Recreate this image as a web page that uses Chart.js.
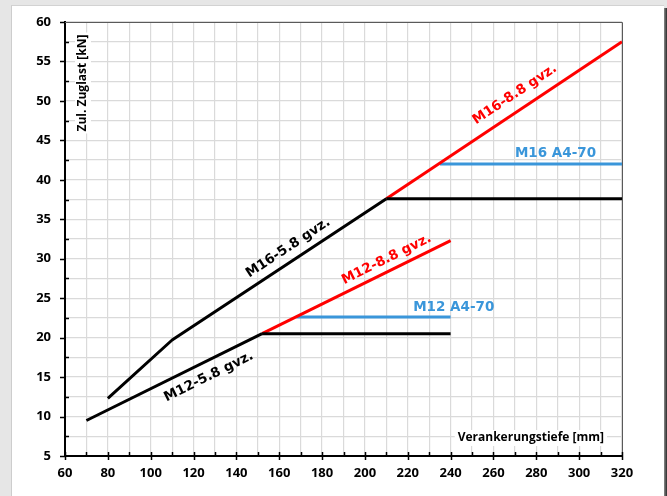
<!DOCTYPE html>
<html><head><meta charset="utf-8">
<script src="https://cdn.jsdelivr.net/npm/chart.js@4/dist/chart.umd.min.js"></script>
<style>
html,body{margin:0;padding:0;background:#e6e6e6;width:667px;height:496px;overflow:hidden;}
#panel{position:absolute;left:11px;top:5px;width:653px;height:500px;background:#fff;border-left:1px solid #cdcdcd;border-top:1px solid #d2d2d2;box-sizing:border-box;}
#shadow{position:absolute;left:664px;top:8px;width:3px;height:488px;background:linear-gradient(to right,#8a8a8a,#2a2a2a);}
canvas{position:absolute;left:0;top:0;}
</style></head><body>
<div id="panel"></div><div id="shadow"></div>
<canvas id="c" width="667" height="496"></canvas>
<script>
// ---- data ----
const m12_58_x = [70, 152];
const m12_58_y = [9.5, 20.5];
const m12_58flat_x = [152, 240];
const m12_58flat_y = [20.5, 20.5];
const m12_88_x = [152, 240];
const m12_88_y = [20.5, 32.3];
const m12_a4_x = [168, 240];
const m12_a4_y = [22.6, 22.6];

const m16_58_x = [80, 110, 210];
const m16_58_y = [12.3, 19.7, 37.6];
const m16_58flat_x = [210, 320];
const m16_58flat_y = [37.6, 37.6];
const m16_88_x = [210, 320];
const m16_88_y = [37.6, 57.5];
const m16_a4_x = [235, 320];
const m16_a4_y = [42, 42];

const xTickLabels = [60,80,100,120,140,160,180,200,220,240,260,280,300,320];
const yTickLabels = [5,10,15,20,25,30,35,40,45,50,55,60];
const xTitle = 'Verankerungstiefe [mm]';
const yTitle = 'Zul. Zuglast [kN]';

const BLACK = '#000000', RED = '#ff0000', BLUE = '#3a96da';

function pts(xs, ys){ return xs.map((x,i)=>({x:x, y:ys[i]})); }
function ds(xs, ys, color){
  return {data:pts(xs,ys), borderColor:color, backgroundColor:color, borderWidth:3,
    showLine:true, pointRadius:0, tension:0, borderCapStyle:'butt', borderJoinStyle:'round'};
}

const lineLabels = [
  {text:'M16-5.8 gvz.', xs:m16_58_x, ys:m16_58_y, seg:1, at:167.5, off:13, color:BLACK},
  {text:'M12-5.8 gvz.', xs:m12_58_x, ys:m12_58_y, seg:0, at:124, off:-15, color:BLACK},
  {text:'M12-8.8 gvz.', xs:m12_88_x, ys:m12_88_y, seg:0, at:212.5, off:11.5, color:RED},
  {text:'M16-8.8 gvz.', xs:m16_88_x, ys:m16_88_y, seg:0, at:274, off:15.5, color:RED}
];
const flatLabels = [
  {text:'M16 A4-70', x:270, y:m16_a4_y[0], dy:-11, color:BLUE},
  {text:'M12 A4-70', x:222.5, y:m12_a4_y[0], dy:-10, color:BLUE}
];

const LABEL_FONT = 'bold 13.5px "DejaVu Sans"';
const TICK_FONT = {family:'"Open Sans"', weight:'bold', size:13};
const TITLE_FONT = 'bold 12px "Open Sans"';

const decor = {
  id:'decor',
  beforeDatasetsDraw(chart){
    const ctx = chart.ctx, a = chart.chartArea;
    ctx.save();
    ctx.font = TITLE_FONT;
    ctx.translate(a.left + 18, a.top + 61);
    ctx.rotate(-Math.PI/2);
    const w1 = ctx.measureText(yTitle).width;
    ctx.fillStyle = '#fff';
    ctx.fillRect(-w1/2 - 2, -8, w1 + 4, 16);
    ctx.fillStyle = '#000';
    ctx.textAlign = 'center'; ctx.textBaseline = 'middle';
    ctx.fillText(yTitle, 0, 0);
    ctx.restore();
    ctx.save();
    ctx.font = TITLE_FONT;
    const w2 = ctx.measureText(xTitle).width;
    const rx = a.right - 18, cy = a.bottom - 18;
    ctx.fillStyle = '#fff';
    ctx.fillRect(rx - w2 - 3, cy - 8, w2 + 6, 16);
    ctx.fillStyle = '#000';
    ctx.textAlign = 'right'; ctx.textBaseline = 'middle';
    ctx.fillText(xTitle, rx, cy);
    ctx.restore();
  },
  afterDatasetsDraw(chart){
    const ctx = chart.ctx, a = chart.chartArea;
    const sx = chart.scales.x, sy = chart.scales.y;
    ctx.save();
    ctx.strokeStyle = '#5a5a5a'; ctx.lineWidth = 1;
    ctx.beginPath();
    ctx.moveTo(a.left, a.top + 0.5); ctx.lineTo(a.right + 0.5, a.top + 0.5); ctx.lineTo(a.right + 0.5, a.bottom);
    ctx.stroke();
    ctx.strokeStyle = '#000'; ctx.lineWidth = 1.5;
    ctx.beginPath();
    for (let v = 5; v <= 60; v += 2.5){
      const y = Math.round(sy.getPixelForValue(v)) + 0.5;
      if (v % 5 === 0){ ctx.moveTo(a.left - 5, y); ctx.lineTo(a.left, y); }
      else { ctx.moveTo(a.left, y); ctx.lineTo(a.left + 4, y); }
    }
    for (let v = 60; v <= 320; v += 10){
      const x = Math.round(sx.getPixelForValue(v)) + 0.5;
      if (v % 20 === 0){ ctx.moveTo(x, a.bottom - 4); ctx.lineTo(x, a.bottom + 4); }
      else { ctx.moveTo(x, a.bottom - 4); ctx.lineTo(x, a.bottom); }
    }
    ctx.stroke();
    ctx.font = LABEL_FONT;
    ctx.textAlign = 'center'; ctx.textBaseline = 'middle';
    for (const L of lineLabels){
      const i = L.seg;
      const x0 = sx.getPixelForValue(L.xs[i]), y0 = sy.getPixelForValue(L.ys[i]);
      const x1 = sx.getPixelForValue(L.xs[i+1]), y1 = sy.getPixelForValue(L.ys[i+1]);
      const ang = Math.atan2(y1 - y0, x1 - x0);
      const t = (L.at - L.xs[i]) / (L.xs[i+1] - L.xs[i]);
      const vy = L.ys[i] + t * (L.ys[i+1] - L.ys[i]);
      const px = sx.getPixelForValue(L.at), py = sy.getPixelForValue(vy);
      const cx = px + L.off * Math.sin(ang), cy = py - L.off * Math.cos(ang);
      ctx.save();
      ctx.translate(cx, cy); ctx.rotate(ang);
      ctx.fillStyle = L.color;
      ctx.fillText(L.text, 0, 0);
      ctx.restore();
    }
    ctx.textAlign = 'left';
    for (const F of flatLabels){
      ctx.fillStyle = F.color;
      ctx.fillText(F.text, sx.getPixelForValue(F.x), sy.getPixelForValue(F.y) + F.dy);
    }
    ctx.restore();
  }
};

new Chart(document.getElementById('c'), {
  type:'scatter',
  data:{datasets:[
    ds(m12_58flat_x, m12_58flat_y, BLACK),
    ds(m16_58flat_x, m16_58flat_y, BLACK),
    ds(m12_58_x, m12_58_y, BLACK),
    ds(m16_58_x, m16_58_y, BLACK),
    ds(m12_88_x, m12_88_y, RED),
    ds(m16_88_x, m16_88_y, RED),
    ds(m12_a4_x, m12_a4_y, BLUE),
    ds(m16_a4_x, m16_a4_y, BLUE)
  ]},
  options:{
    responsive:false, animation:false,
    layout:{padding:{left:0, right:45, top:22, bottom:0}},
    plugins:{legend:{display:false}, tooltip:{enabled:false}},
    scales:{
      x:{type:'linear', min:60, max:320,
        afterFit(s){ s.height = 40; },
        grid:{color:'#dadada', lineWidth:1.2, drawTicks:false},
        border:{display:true, color:'#000', width:2},
        ticks:{stepSize:10, padding:9, color:'#000', font:TICK_FONT, maxRotation:0,
          autoSkip:false, callback:(v)=> xTickLabels.includes(v) ? String(v) : ''}
      },
      y:{type:'linear', min:5, max:60,
        afterFit(s){ s.width = 65; },
        grid:{color:'#dadada', lineWidth:1.2, drawTicks:false},
        border:{display:true, color:'#000', width:2},
        ticks:{stepSize:2.5, padding:14, color:'#000', font:TICK_FONT,
          autoSkip:false, callback:(v)=> yTickLabels.includes(v) ? String(v) : ''}
      }
    }
  },
  plugins:[decor]
});
</script>
</body></html>
